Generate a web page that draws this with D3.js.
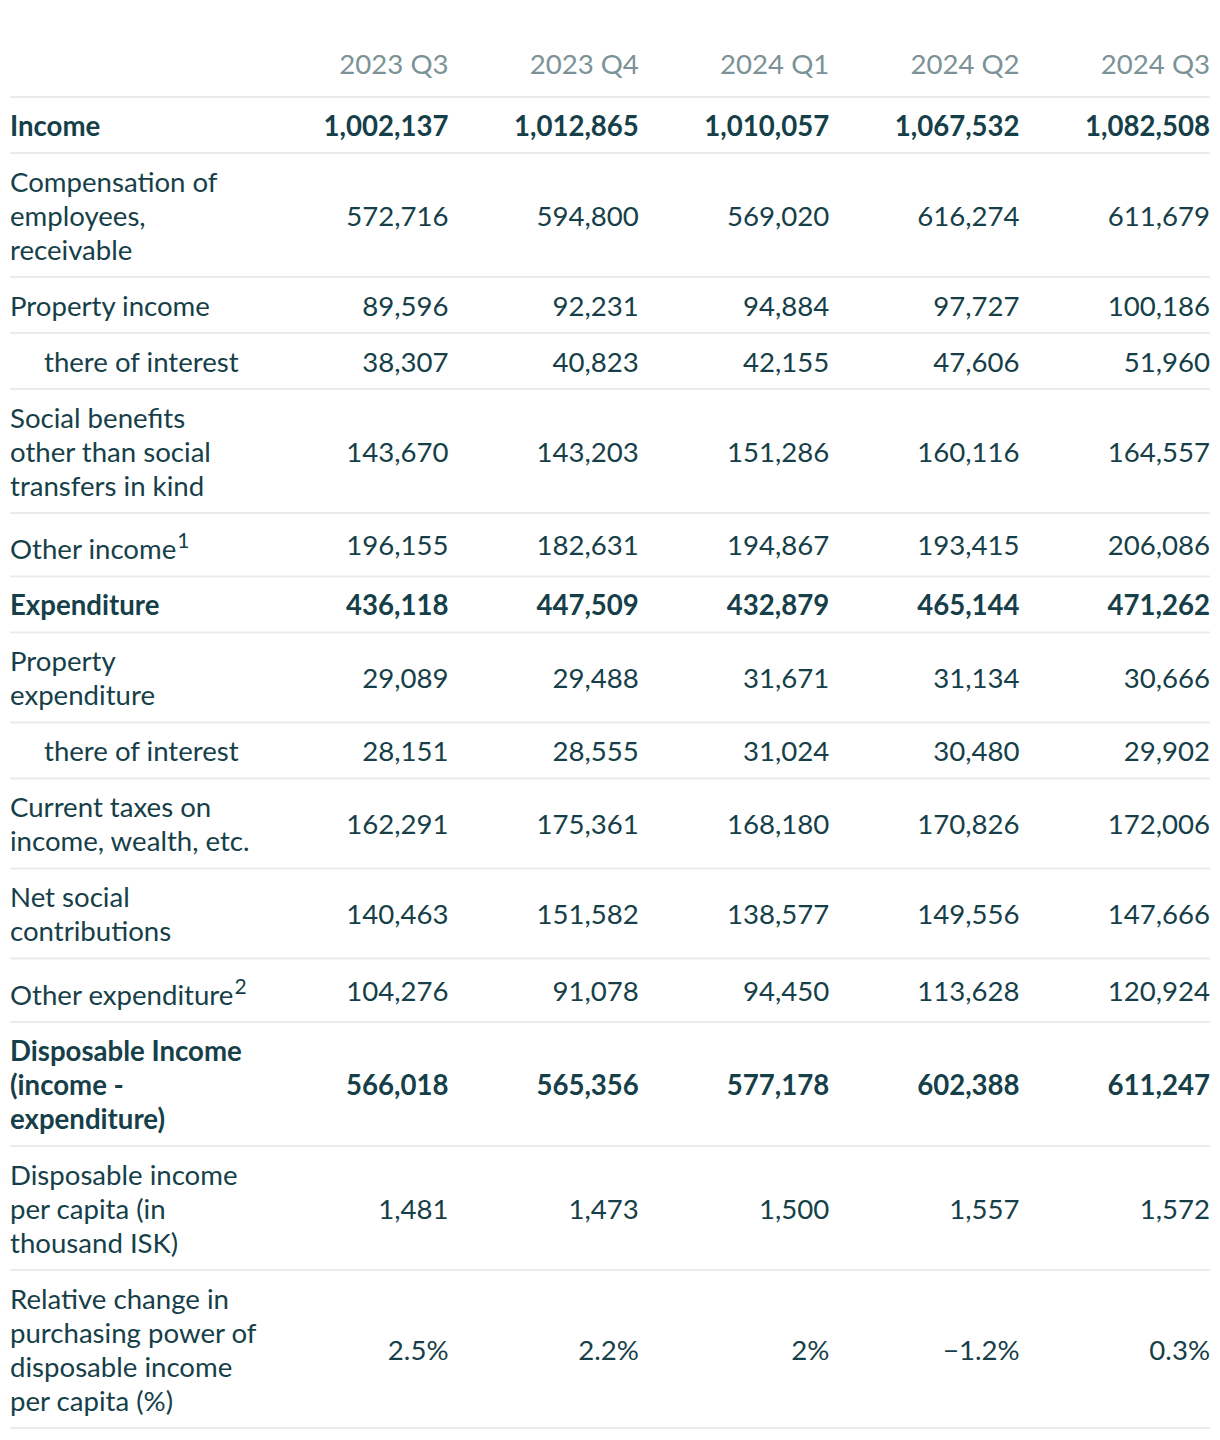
<!DOCTYPE html>
<html>
<head>
<meta charset="utf-8">
<script src="https://cdn.jsdelivr.net/npm/d3@7"></script>
<style>
  html, body { margin: 0; padding: 0; background: #fff; }
  svg { display: block; font-family: Lato, "Noto Sans", sans-serif; }
</style>
</head>
<body>
<div id="chart"></div>
<script>
// ---------- DATA ----------
const quarters = ["2023 Q3", "2023 Q4", "2024 Q1", "2024 Q2", "2024 Q3"];

const rowLabels = [
  ["Income"],
  ["Compensation of", "employees,", "receivable"],
  ["Property income"],
  ["there of interest"],
  ["Social benefits", "other than social", "transfers in kind"],
  ["Other income"],
  ["Expenditure"],
  ["Property", "expenditure"],
  ["there of interest"],
  ["Current taxes on", "income, wealth, etc."],
  ["Net social", "contributions"],
  ["Other expenditure"],
  ["Disposable Income", "(income -", "expenditure)"],
  ["Disposable income", "per capita (in", "thousand ISK)"],
  ["Relative change in", "purchasing power of", "disposable income", "per capita (%)"]
];
const rowFootnotes = [null, null, null, null, null, "1", null, null, null, null, null, "2", null, null, null];

const values2023Q3 = [1002137, 572716, 89596, 38307, 143670, 196155, 436118, 29089, 28151, 162291, 140463, 104276, 566018, 1481, 2.5];
const values2023Q4 = [1012865, 594800, 92231, 40823, 143203, 182631, 447509, 29488, 28555, 175361, 151582, 91078, 565356, 1473, 2.2];
const values2024Q1 = [1010057, 569020, 94884, 42155, 151286, 194867, 432879, 31671, 31024, 168180, 138577, 94450, 577178, 1500, 2];
const values2024Q2 = [1067532, 616274, 97727, 47606, 160116, 193415, 465144, 31134, 30480, 170826, 149556, 113628, 602388, 1557, -1.2];
const values2024Q3 = [1082508, 611679, 100186, 51960, 164557, 206086, 471262, 30666, 29902, 172006, 147666, 120924, 611247, 1572, 0.3];
const seriesValues = [values2023Q3, values2023Q4, values2024Q1, values2024Q2, values2024Q3];

// ---------- STYLE / LAYOUT ----------
const boldRows = new Set([0, 6, 12]);
const indentRows = new Set([3, 8]);
const percentRows = new Set([14]);

const W = 1220, H = 1440;
const textColor = "#163f49";
const headColor = "#7b9296";
const ruleColor = "#ebebeb";
const fontSize = 27.6, lineH = 34, padV = 11, supExtra = 7.5;
const left = 10, right = 1210;

const x = d3.scalePoint().domain(quarters).range([448.5, 1210]);
const fmtNum = d3.format(",");
const fmtPct = d3.format("");

const svg = d3.select("#chart").append("svg")
  .attr("width", W).attr("height", H);

// header
svg.append("g").selectAll("text")
  .data(quarters).join("text")
  .attr("x", d => x(d)).attr("y", 74)
  .attr("text-anchor", "end")
  .attr("font-size", fontSize)
  .attr("fill", headColor)
  .text(d => d);

const headerBottom = 97;
svg.append("line")
  .attr("x1", left).attr("x2", right)
  .attr("y1", headerBottom).attr("y2", headerBottom)
  .attr("stroke", ruleColor).attr("stroke-width", 2);

// compute rows
let yCur = headerBottom;
const rows = rowLabels.map((lines, i) => {
  const extra = rowFootnotes[i] ? supExtra : 0;
  const h = lines.length * lineH + 2 * padV + extra;
  const r = { i, lines, top: yCur, h, extra };
  yCur += h;
  return r;
});

const g = svg.append("g").selectAll("g.row").data(rows).join("g").attr("class", "row");

g.each(function(r) {
  const sel = d3.select(this);
  const t = sel.append("text")
    .attr("font-size", fontSize)
    .attr("font-weight", boldRows.has(r.i) ? 700 : 400)
    .attr("fill", textColor);
  const lx = indentRows.has(r.i) ? 44 : left;
  r.lines.forEach((ln, k) => {
    t.append("tspan")
      .attr("x", lx)
      .attr("y", r.top + r.extra + padV + 27.5 + k * lineH)
      .text(ln);
  });
  if (rowFootnotes[r.i]) {
    t.append("tspan")
      .attr("dx", 1)
      .attr("dy", -11)
      .attr("font-size", 21)
      .text(rowFootnotes[r.i]);
  }
  sel.selectAll("text.val")
    .data(quarters.map((q, c) => ({ q, v: seriesValues[c][r.i] })))
    .join("text")
    .attr("class", "val")
    .attr("x", d => x(d.q))
    .attr("y", r.top + r.h / 2 + 10.5)
    .attr("text-anchor", "end")
    .attr("font-size", fontSize)
    .attr("font-weight", boldRows.has(r.i) ? 700 : 400)
    .attr("fill", textColor)
    .text(d => percentRows.has(r.i) ? fmtPct(d.v) + "%" : fmtNum(d.v));
  sel.append("line")
    .attr("x1", left).attr("x2", right)
    .attr("y1", r.top + r.h).attr("y2", r.top + r.h)
    .attr("stroke", ruleColor).attr("stroke-width", 2);
});
</script>
</body>
</html>
